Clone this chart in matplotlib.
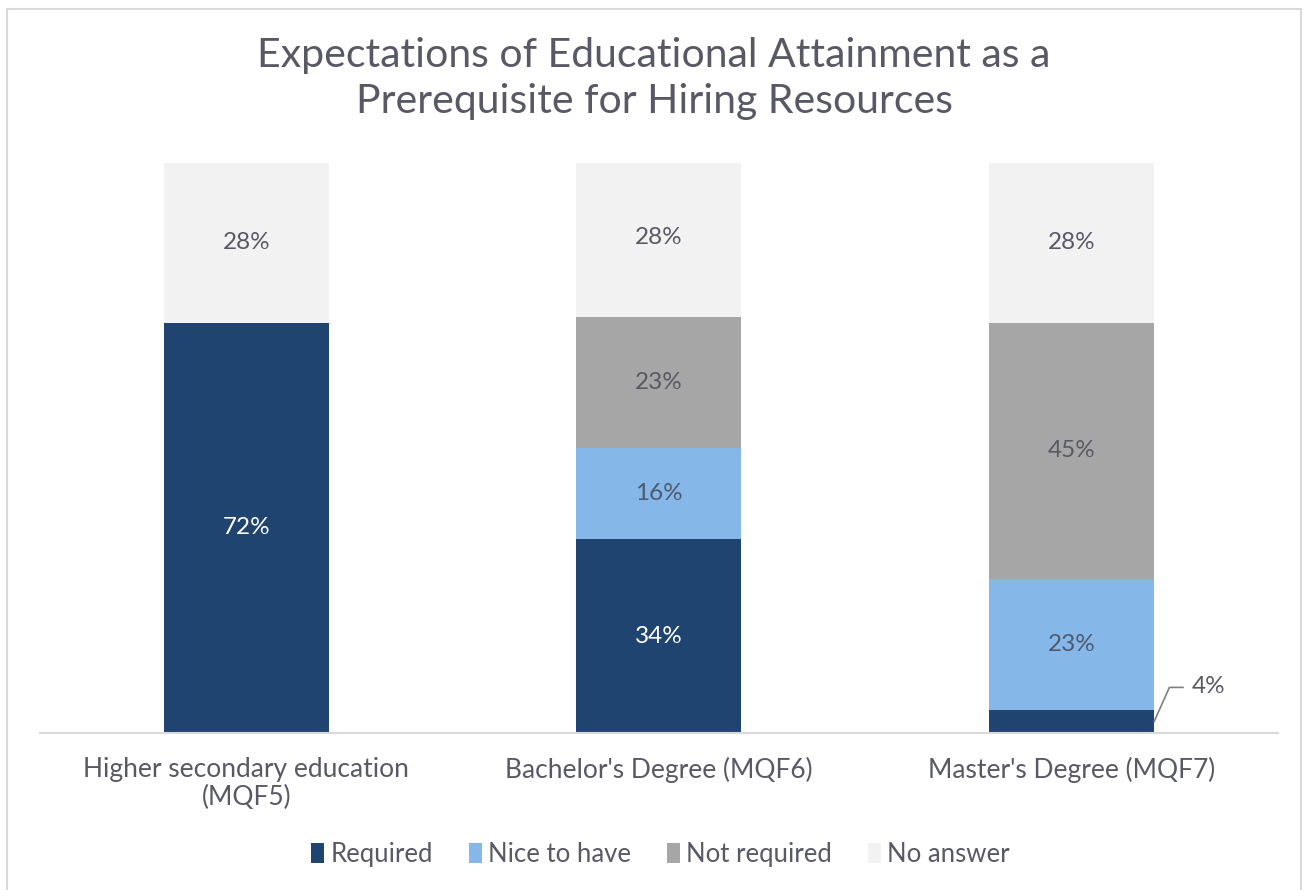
import matplotlib.pyplot as plt
import numpy as np

# Survey shares per degree level (in %)
categories = ["Higher secondary education\n(MQF5)", "Bachelor's Degree (MQF6)", "Master's Degree (MQF7)"]
series_names = ["Required", "Nice to have", "Not required", "No answer"]
required = [72, 34, 4]
nice_to_have = [0, 16, 23]
not_required = [0, 23, 45]
no_answer = [28, 28, 28]

colors = ["#1F4470", "#85B8E8", "#A6A6A6", "#F2F2F2"]
label_colors = ["white", "#4F5A6E", "#595966", "#595966"]
text_col = "#595966"

plt.rcParams["font.family"] = ["Lato", "DejaVu Sans"]

fig = plt.figure(figsize=(13.08, 8.9), dpi=100)
ax = fig.add_axes([0.0306, 0.1764, 0.9464, 0.6405])

x = np.arange(len(categories))
width = 0.4
series = [required, nice_to_have, not_required, no_answer]
bottom = np.zeros(len(categories))
for vals, name, col, lcol in zip(series, series_names, colors, label_colors):
    vals = np.array(vals, dtype=float)
    ax.bar(x, vals, width, bottom=bottom, color=col, label=name)
    for i, v in enumerate(vals):
        if v >= 10:
            ax.text(x[i], bottom[i] + v / 2, f"{v:.0f}%", ha="center", va="center",
                    fontsize=17.5, color=lcol)
    bottom += vals

# small segment gets a leader line instead of an inside label
i = 2
v = required[i]
x0 = x[i] + width / 2
y0 = v / 2
ax.plot([x0, x0 + 0.037, x0 + 0.07], [y0, y0 + 6, y0 + 6], color="#808080", lw=1.2,
        clip_on=False)
ax.text(x0 + 0.09, y0 + 6.2, f"{v}%", ha="left", va="center", fontsize=17.5, color=text_col)

ax.set_xlim(-0.5, 2.5)
ax.set_ylim(0, 100)
ax.set_yticks([])
ax.set_xticks(x)
ax.set_xticklabels(categories, fontsize=19, color=text_col, linespacing=1.15)
ax.tick_params(axis="x", length=0, pad=17)
for s in ["top", "right", "left"]:
    ax.spines[s].set_visible(False)
ax.spines["bottom"].set_color("#D9D9D9")
ax.spines["bottom"].set_linewidth(1.5)

fig.suptitle("Expectations of Educational Attainment as a\nPrerequisite for Hiring Resources",
             fontsize=29.5, color=text_col, y=0.958, linespacing=1.28)

leg = fig.legend(loc="center", bbox_to_anchor=(0.505, 0.04), ncol=4, frameon=False,
                 fontsize=18.5, handlelength=0.5, handleheight=0.85, handletextpad=0.25,
                 columnspacing=1.4)
for t in leg.get_texts():
    t.set_color(text_col)

# light frame around the whole chart area
frame = plt.Rectangle((0.0055, -0.01), 0.9895, 1.0, transform=fig.transFigure,
                      fill=False, edgecolor="#D9D9D9", lw=1.5)
fig.patches.append(frame)

plt.savefig("out.png", dpi=100)
